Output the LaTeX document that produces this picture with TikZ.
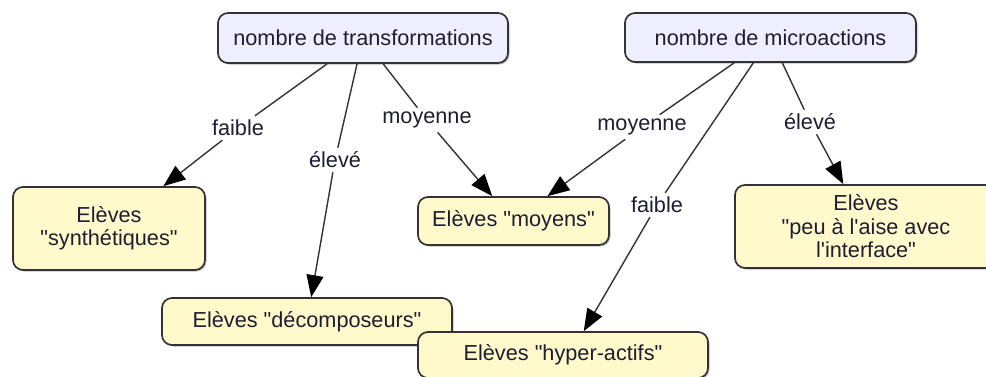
\documentclass[tikz,border=0pt]{standalone}
\usepackage{fontspec}
\setmainfont{Liberation Sans}[Ligatures=TeXOff]
\usetikzlibrary{arrows.meta,shadows}
\definecolor{lav}{HTML}{EEEEFF}
\definecolor{yel}{HTML}{FFF9CC}
\definecolor{edgec}{HTML}{333333}
\definecolor{ink}{HTML}{1E1E30}
\begin{document}
\begin{tikzpicture}[x=1pt,y=-1pt,
  font=\fontsize{21.7}{23.5}\selectfont,
  concept/.style={draw=edgec, line width=1.7pt, rounded corners=10pt, inner sep=0pt,
    align=center, text=ink,
    drop shadow={shadow xshift=1.5pt, shadow yshift=-1.5pt, fill=black, opacity=0.25}},
  topbox/.style={concept, fill=lav},
  studbox/.style={concept, fill=yel},
  lab/.style={fill=white, inner sep=4pt, text=ink},
  link/.style={draw=edgec, line width=1.4pt},
  arr/.style={link, -{Triangle[length=22pt,width=17pt,color=black]}}]
\useasboundingbox (0,0) rectangle (986,376);
\fill[white] (0,0) rectangle (986,376);

% concepts
\node[topbox, minimum width=290pt, minimum height=50pt] (T) at (363,38) {nombre de transformations};
\node[topbox, minimum width=291pt, minimum height=49pt] (M) at (770.5,37.5) {nombre de microactions};
\node[studbox, minimum width=192pt, minimum height=83pt] (syn) at (109,228.5) {Elèves\\"synthétiques"};
\node[studbox, minimum width=191pt, minimum height=48pt] (moy) at (513.5,221) {Elèves "moyens"};
\node[studbox, minimum width=262pt, minimum height=83pt] (peu) at (866,226.5) {Elèves\\"peu à l'aise avec\\l'interface"};
\node[studbox, minimum width=290pt, minimum height=47pt] (dec) at (307,321.5) {Elèves "décomposeurs"};
\node[studbox, minimum width=290pt, minimum height=46pt] (hyp) at (563,355) {Elèves "hyper-actifs"};

% linking phrases
\node[lab] (lf1) at (238,128) {faible};
\node[lab] (le1) at (335,160) {élevé};
\node[lab] (lm1) at (427,120) {moyenne};
\node[lab] (lm2) at (642,127) {moyenne};
\node[lab] (lf2) at (657,205) {faible};
\node[lab] (le2) at (810,122) {élevé};

% connectors
\draw[link] (T) -- (lf1);
\draw[arr] (lf1) -- (syn);
\draw[link] (T) -- (le1);
\draw[arr] (le1) -- (dec);
\draw[link] (T) -- (lm1);
\draw[arr] (lm1) -- (moy);
\draw[link] (M) -- (lm2);
\draw[arr] (lm2) -- (moy);
\draw[link] (M) -- (lf2);
\draw[arr] (lf2) -- (hyp.49);
\draw[link] (M) -- (le2);
\draw[arr] (le2) -- (peu);
\end{tikzpicture}
\end{document}
